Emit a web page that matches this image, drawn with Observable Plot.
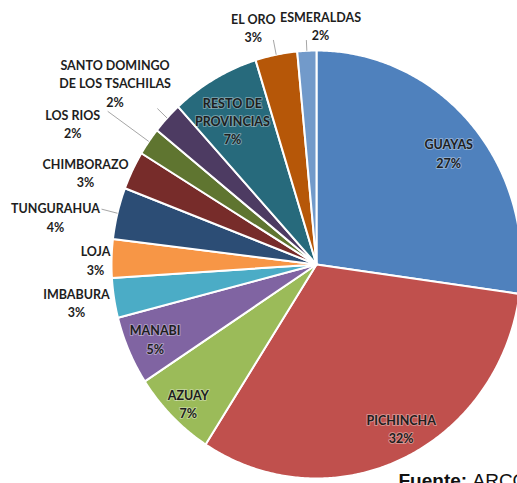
<!DOCTYPE html>
<html><head><meta charset="utf-8">
<script src="https://cdn.jsdelivr.net/npm/d3@7"></script>
<script src="https://cdn.jsdelivr.net/npm/@observablehq/plot@0.6"></script>
<style>
html,body{margin:0;padding:0;background:#fff;overflow:hidden}
#chart{width:517px;height:483px;overflow:hidden}
</style></head><body><div id="chart"></div>
<script>
// ---- data ----
const provincias = ["GUAYAS","PICHINCHA","AZUAY","MANABI","IMBABURA","LOJA","TUNGURAHUA","CHIMBORAZO","LOS RIOS","SANTO DOMINGO\nDE LOS TSACHILAS","RESTO DE\nPROVINCIAS","EL ORO","ESMERALDAS"];
const porcentajes = [27.2,31.9,6.7,5.2,3.0,2.9,3.9,2.9,2.1,2.4,7.0,3.3,1.5];
const etiquetasPct = ["27%","32%","7%","5%","3%","3%","4%","3%","2%","2%","7%","3%","2%"];
const colores = ["#4F81BD","#C0504D","#9BBB59","#8064A2","#4BACC6","#F79646","#2C4D75","#772C2A","#5F7530","#4D3B62","#276A7C","#B65708","#729ACA"];
const fuenteTitulo = "Fuente:";
const fuenteNombre = "ARCOTEL";

// ---- label layout (radius in pie units, angular nudge in degrees) ----
const labelR     = [0.83, 0.87, 0.90, 0.86, 1.184, 1.078, 1.293, 1.206, 1.36, 1.30, 0.79, 1.15, 1.12];
const labelShift = [2, -3.7, -0.8, 0, 0.4, -0.4, -3.9, -5.2, -6.1, -2.3, -1.4, -4.2, 3.7];
const leaderR    = [0, 0, 0, 0, 0, 0, 1.08, 0, 1.245, 1.065, 0, 1.07, 1.05];

// ---- geometry ----
const W = 517, H = 483, CX = 316, CY = 264, RX = 205, RY = 214;
const total = d3.sum(porcentajes);
const rad = a => a * Math.PI / 180;
const polar = (a, r) => [r * Math.sin(rad(a)), r * Math.cos(rad(a))];

let acc = 0;
const slices = porcentajes.map((v, i) => {
  const a0 = acc / total * 360; acc += v; const a1 = acc / total * 360;
  return {i, name: provincias[i], value: v, a0, a1, mid: (a0 + a1) / 2, color: colores[i]};
});

const poly = [];
for (const s of slices) {
  poly.push({k: s.i, p: [0, 0], color: s.color});
  const n = Math.max(2, Math.ceil((s.a1 - s.a0) / 0.5));
  for (let j = 0; j <= n; j++) {
    const a = s.a0 + (s.a1 - s.a0) * j / n;
    poly.push({k: s.i, p: polar(a, 1), color: s.color});
  }
}

const labels = slices.map(s => {
  const [x, y] = polar(s.mid + labelShift[s.i], labelR[s.i]);
  return {x, y, text: s.name + "\n" + etiquetasPct[s.i]};
});

const leaders = slices.filter(s => leaderR[s.i] > 0).map(s => {
  const [x1, y1] = polar(s.mid, 1.0);
  const [x2, y2] = polar(s.mid, leaderR[s.i]);
  return {x1, y1, x2, y2};
});

const chart = Plot.plot({
  width: W, height: H,
  margin: 0,
  x: {domain: [-CX / RX, (W - CX) / RX], range: [0, W], axis: null},
  y: {domain: [-(H - CY) / RY, CY / RY], range: [H, 0], axis: null},
  color: {type: "identity"},
  style: {background: "#fff", overflow: "hidden"},
  marks: [
    Plot.line(poly, {x: d => d.p[0], y: d => d.p[1], z: "k", fill: "color", stroke: "#fff", strokeWidth: 2, curve: "linear-closed", strokeLinejoin: "round"}),
    Plot.link(leaders, {x1: "x1", y1: "y1", x2: "x2", y2: "y2", stroke: "#a6a6a6", strokeWidth: 1}),
    Plot.text(labels, {x: "x", y: "y", text: "text", fontFamily: "Lato, 'Open Sans', sans-serif", fontWeight: "bold", fontSize: 12.5, lineHeight: 1.47, fill: "#1e1e1e", stroke: "#fff", strokeOpacity: 0.35, strokeWidth: 2, paintOrder: "stroke"}),
    Plot.text([fuenteTitulo], {frameAnchor: "bottom-left", textAnchor: "start", lineAnchor: "bottom", dx: 398, dy: 3, fontFamily: "'Liberation Sans', Arial, sans-serif", fontWeight: "bold", fontSize: 19, fill: "#111"}),
    Plot.text([fuenteNombre], {frameAnchor: "bottom-left", textAnchor: "start", lineAnchor: "bottom", dx: 472, dy: 3, fontFamily: "'Liberation Sans', Arial, sans-serif", fontSize: 19, fill: "#111"})
  ]
});
document.getElementById("chart").appendChild(chart);
</script>
</body></html>
